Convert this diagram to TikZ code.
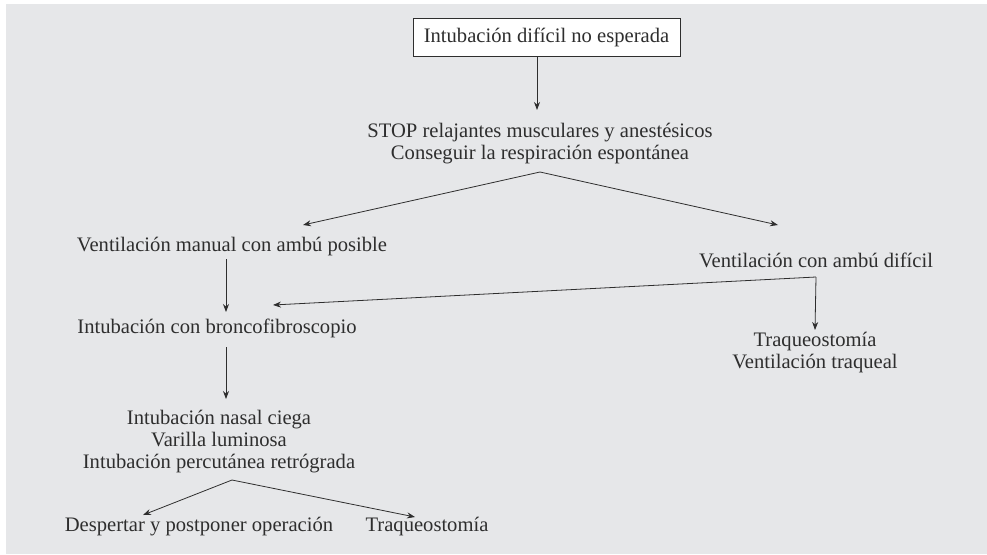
\documentclass[tikz,border=0pt]{standalone}
\usepackage{fontspec}
\setmainfont{Liberation Serif}
\usetikzlibrary{positioning,arrows.meta}
\definecolor{panel}{HTML}{E6E7E9}
\definecolor{ink}{HTML}{2E2E2E}
\tikzset{txt/.style={text=ink,align=center,inner sep=1pt,font=\fontsize{20.6}{22}\selectfont},
  boxed/.style={txt,draw=ink,fill=white,line width=0.8pt,minimum width=267,minimum height=38},
  conn/.style={draw=ink,line width=0.8pt},
  arr/.style={conn,-{Stealth[length=8pt,width=6pt]}}}

\begin{document}
\begin{tikzpicture}[x=1pt,y=-1pt]
    \fill[panel] (6,4) rectangle (987,554);
    \useasboundingbox (0,0) rectangle (987,554);

    \node[boxed] (start) at (546.5,37) {Intubación difícil no esperada};
    \node[txt] (stop) at (540,144) {STOP relajantes musculares y anestésicos\\Conseguir la respiración espontánea};
    \node[txt] (manual) at (232,247) {Ventilación manual con ambú posible};
    \node[txt] (dificil) at (816,260) {Ventilación con ambú difícil};
    \node[txt] (bronco) at (217,328) {Intubación con broncofibroscopio};
    \node[txt] (traq) at (815,353) {Traqueostomía\\Ventilación traqueal};
    \node[txt] (ciega) at (219,442) {Intubación nasal ciega\\Varilla luminosa\\Intubación percutánea retrógrada};
    \node[txt] (despertar) at (199,527) {Despertar y postponer operación};
    \node[txt] (traqb) at (427,527) {Traqueostomía};

    % forks and arrow ends
    \coordinate (fork1) at ([yshift=-28pt]stop.center);
    \coordinate (fork2) at ([yshift=-17pt]dificil.center);
    \coordinate (fork3) at ([xshift=13pt,yshift=-38pt]ciega.center);
    \coordinate (toManual) at ([xshift=71pt,yshift=22pt]manual.center);
    \coordinate (toDificil) at ([xshift=-38pt,yshift=35pt]dificil.center);
    \coordinate (toBronco) at ([xshift=56pt,yshift=23pt]bronco.center);
    \coordinate (toDespertar) at ([xshift=-56pt,yshift=12pt]despertar.center);
    \coordinate (toTraqb) at ([xshift=-12pt,yshift=10pt]traqb.center);

    \draw[arr] ([xshift=-9.5pt]start.south) -- ([xshift=-3pt,yshift=34pt]stop.center);
    \draw[arr] (fork1) -- (toManual);
    \draw[arr] (fork1) -- (toDificil);
    \draw[arr] ([xshift=-6pt,yshift=-12pt]manual.center) -- ([xshift=9pt,yshift=16pt]bronco.center);
    \draw[arr] (fork2) -- (toBronco);
    \draw[arr] (fork2) -- ([yshift=23pt]traq.center);
    \draw[arr] ([xshift=9pt,yshift=-19pt]bronco.center) -- ([xshift=7pt,yshift=43pt]ciega.center);
    \draw[arr] (fork3) -- (toDespertar);
    \draw[arr] (fork3) -- (toTraqb);
\end{tikzpicture}
\end{document}
